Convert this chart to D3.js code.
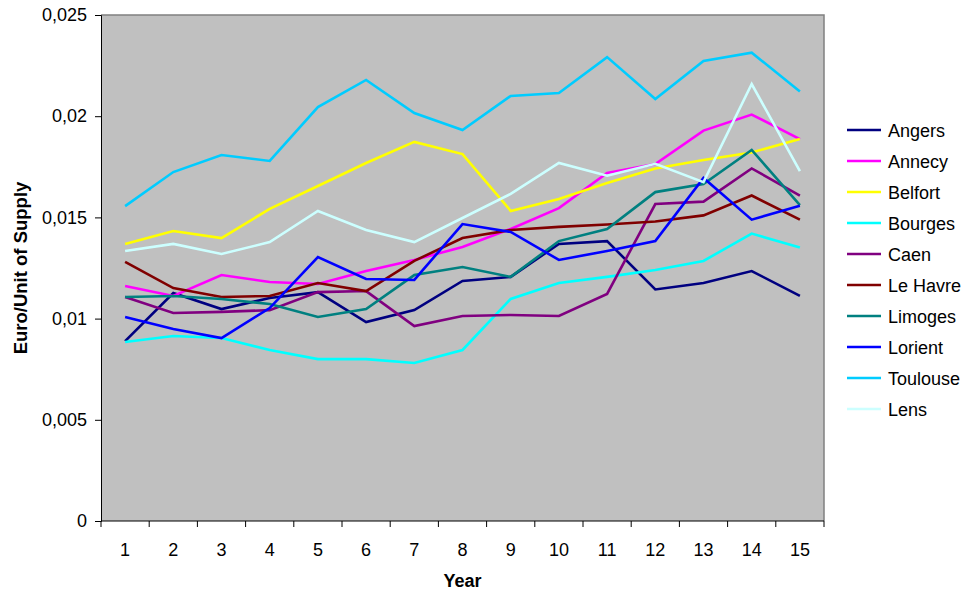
<!DOCTYPE html>
<html><head><meta charset="utf-8">
<script src="https://cdn.jsdelivr.net/npm/d3@7"></script>
<style>body{margin:0;background:#fff}svg{display:block}text{font-family:"Liberation Sans",Arial,sans-serif}</style>
</head><body><svg id="c" width="967" height="597"></svg>
<script>
const years = [1,2,3,4,5,6,7,8,9,10,11,12,13,14,15];
const cities = ["Angers","Annecy","Belfort","Bourges","Caen","Le Havre","Limoges","Lorient","Toulouse","Lens"];
const colors = ["#000080","#FF00FF","#FFFF00","#00FFFF","#800080","#800000","#008080","#0000FF","#00CCFF","#CCFFFF"];
const angers   = [0.00889,0.01126,0.01047,0.01102,0.01131,0.00983,0.01042,0.01186,0.01206,0.01369,0.01383,0.01144,0.01176,0.01235,0.01112];
const annecy   = [0.01161,0.01112,0.01215,0.01181,0.01171,0.01235,0.0129,0.01354,0.01443,0.01546,0.0172,0.01764,0.01929,0.02008,0.01887];
const belfort  = [0.01369,0.01433,0.01398,0.01542,0.01655,0.01769,0.01873,0.01813,0.01532,0.01591,0.0167,0.01742,0.01784,0.01821,0.01887];
const bourges  = [0.00884,0.00914,0.00904,0.00845,0.008,0.008,0.00781,0.00845,0.01097,0.01176,0.01206,0.0124,0.01285,0.0142,0.01351];
const caen     = [0.01107,0.01028,0.01033,0.01042,0.01131,0.01136,0.00963,0.01013,0.01018,0.01013,0.01122,0.01566,0.01578,0.01742,0.01608];
const leHavre  = [0.0128,0.01151,0.01107,0.01112,0.01176,0.01136,0.01285,0.01398,0.01438,0.01453,0.01465,0.0148,0.0151,0.01608,0.01489];
const limoges  = [0.01107,0.01112,0.01097,0.01072,0.01008,0.01047,0.01215,0.01255,0.01206,0.01383,0.01443,0.01625,0.01665,0.01833,0.01561];
const lorient  = [0.01008,0.00949,0.00904,0.01052,0.01304,0.01196,0.01191,0.01467,0.01428,0.0129,0.01334,0.01383,0.01695,0.01489,0.01557];
const toulouse = [0.01556,0.01724,0.01808,0.01779,0.02045,0.02179,0.02016,0.01932,0.0210,0.02115,0.02292,0.02085,0.02273,0.02314,0.02122];
const lens     = [0.01334,0.01369,0.01319,0.01378,0.01532,0.01438,0.01378,0.01497,0.01616,0.01769,0.01706,0.01765,0.01674,0.02159,0.01729];
const yTicks = [0,0.005,0.01,0.015,0.02,0.025];
const yTickLabels = ["0","0,005","0,01","0,015","0,02","0,025"];
const seriesValues = [angers,annecy,belfort,bourges,caen,leHavre,limoges,lorient,toulouse,lens];

const svg = d3.select("#c");
const L=101, R=824, T=15, B=521;
const x = d3.scaleBand().domain(years).range([L,R]);
const y = d3.scaleLinear().domain([0,0.025]).range([B,T]);

svg.append("rect").attr("x",L).attr("y",T).attr("width",R-L).attr("height",B-T).attr("fill","#C0C0C0");
svg.append("path").attr("d",`M${L},${T}H${R}V${B}`).attr("fill","none").attr("stroke","#808080").attr("stroke-width",1.5);

const lineGen = d3.line().x((d,i)=>x(years[i])+x.bandwidth()/2).y(d=>y(d));
seriesValues.forEach((vals,k)=>{
  svg.append("path").datum(vals).attr("d",lineGen).attr("fill","none")
    .attr("stroke",colors[k]).attr("stroke-width",2.6).attr("stroke-linejoin","miter");
});

// y axis
const yAx = svg.append("g").attr("transform",`translate(${L},0)`)
  .call(d3.axisLeft(y).tickValues(yTicks).tickFormat((d,i)=>yTickLabels[i]).tickSize(6).tickPadding(8));
yAx.select(".domain").attr("stroke","#000");
yAx.selectAll("text").attr("font-size",18).attr("fill","#000").attr("font-family","Liberation Sans, Arial, sans-serif");

// x axis (ticks between categories)
const xAx = svg.append("g").attr("transform",`translate(0,${B})`);
xAx.append("line").attr("x1",L).attr("x2",R).attr("stroke","#000");
const bounds = years.map(d=>x(d)).concat([R]);
xAx.selectAll("line.t").data(bounds).join("line").attr("class","t")
  .attr("x1",d=>d).attr("x2",d=>d).attr("y1",0).attr("y2",6).attr("stroke","#000");
xAx.selectAll("text").data(years).join("text")
  .attr("x",d=>x(d)+x.bandwidth()/2).attr("y",35).attr("text-anchor","middle")
  .attr("font-size",18).attr("fill","#000").text(d=>d);

svg.append("text").attr("x",(L+R)/2).attr("y",587).attr("text-anchor","middle")
  .attr("font-size",18).attr("font-weight","bold").text("Year");
svg.append("text").attr("transform",`translate(27,${(T+B)/2}) rotate(-90)`).attr("text-anchor","middle")
  .attr("font-size",18.5).attr("font-weight","bold").text("Euro/Unit of Supply");

// legend
const lg = svg.append("g");
cities.forEach((c,i)=>{
  const yy = 130 + i*31;
  lg.append("line").attr("x1",847).attr("x2",881).attr("y1",yy).attr("y2",yy)
    .attr("stroke",colors[i]).attr("stroke-width",2.6);
  lg.append("text").attr("x",888).attr("y",yy+6.5).attr("font-size",18).attr("fill","#000").text(c);
});
</script></body></html>
